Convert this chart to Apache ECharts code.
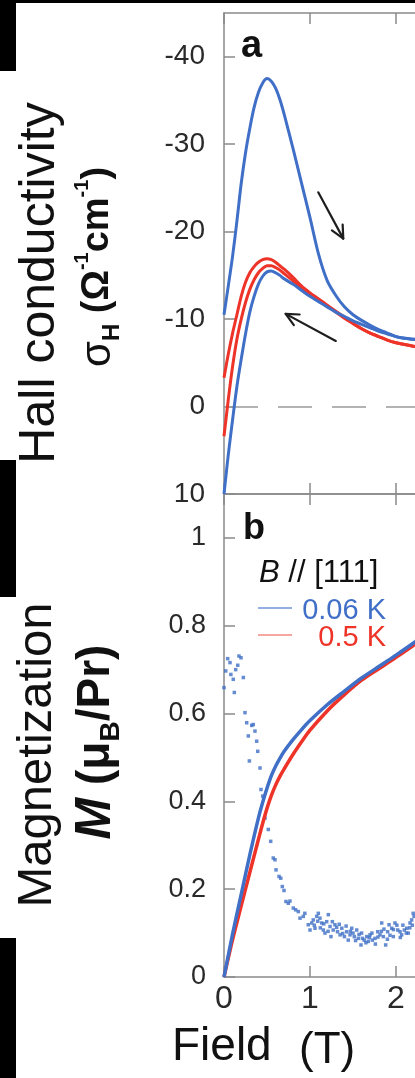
<!DOCTYPE html>
<html><head><meta charset="utf-8">
<script src="https://cdn.jsdelivr.net/npm/echarts@6/dist/echarts.min.js"></script>
<style>html,body{margin:0;padding:0;background:#fff;overflow:hidden;width:415px;height:1078px}
#c{width:520px;height:1078px}</style></head><body><div id="c"></div><script>
// ---------- Panel a: Hall conductivity (Ω^-1 cm^-1) ----------
const hallField = [0,0.05,0.1,0.15,0.2,0.25,0.3,0.35,0.4,0.45,0.5,0.55,0.6,0.65,0.7,0.8,0.9,1.0,1.1,1.2,1.3,1.4,1.5,1.6,1.7,1.8,1.9,2.0,2.1,2.2,2.3];
const hallBluePeak = [-10.5,-13.8,-17.2,-21.2,-25.5,-29.0,-31.8,-34.2,-35.9,-37.0,-37.5,-37.2,-36.4,-35.1,-33.4,-29.6,-25.6,-21.6,-17.4,-14.4,-12.7,-11.4,-10.5,-9.85,-9.3,-8.8,-8.4,-8.0,-7.8,-7.7,-7.6];
const hallBlueLow  = [10.0,5.5,1.5,-2.3,-5.4,-8.3,-10.8,-12.6,-14.0,-14.9,-15.4,-15.5,-15.3,-15.0,-14.6,-14.0,-13.3,-12.6,-12.0,-11.4,-10.8,-10.3,-9.8,-9.4,-9.0,-8.6,-8.3,-8.0,-7.8,-7.7,-7.6];
const hallRedOuter = [-3.3,-6.0,-8.4,-10.5,-12.6,-14.2,-15.3,-16.0,-16.5,-16.8,-16.9,-16.8,-16.5,-16.1,-15.7,-14.8,-13.8,-13.0,-12.3,-11.6,-10.9,-10.2,-9.5,-8.9,-8.4,-8.0,-7.6,-7.3,-7.1,-6.9,-6.7];
const hallRedInner = [3.4,-0.8,-4.6,-7.7,-10.0,-11.9,-13.4,-14.5,-15.3,-15.8,-16.1,-16.1,-15.9,-15.6,-15.2,-14.4,-13.6,-12.9,-12.2,-11.5,-10.8,-10.1,-9.5,-8.9,-8.4,-8.0,-7.6,-7.3,-7.1,-6.9,-6.8];
const hallTicks = [-40,-30,-20,-10,0,10];
// sweep-direction arrows (field, sigma) : start -> end
const arrowSweepUp   = [[1.096,-24.5],[1.387,-19.2]];
const arrowSweepDown = [[1.30,-7.5],[0.717,-10.6]];

// ---------- Panel b: Magnetization (μB/Pr) ----------
const magField = [0,0.1,0.2,0.3,0.4,0.45,0.5,0.55,0.6,0.65,0.7,0.8,0.9,1.0,1.2,1.4,1.6,1.8,2.0,2.2,2.3];
const magBlue  = [0,0.098,0.188,0.278,0.362,0.398,0.43,0.458,0.48,0.498,0.514,0.54,0.563,0.584,0.62,0.651,0.681,0.707,0.733,0.76,0.775];
const magRed   = [0,0.085,0.162,0.238,0.313,0.35,0.384,0.413,0.437,0.457,0.474,0.506,0.535,0.562,0.606,0.643,0.676,0.702,0.728,0.755,0.77];
const dmField = [0,0.02,0.043,0.07,0.08,0.108,0.12,0.136,0.16,0.174,0.198,0.225,0.244,0.264,0.283,0.295,0.322,0.34,0.36,0.38,0.392,0.419,0.43,0.45,0.477,0.515,0.543,0.573,0.593,0.605,0.64,0.66,0.678,0.698,0.72,0.748,0.767,0.806,0.833,0.864,0.884,0.922,0.94,0.98,1.0,1.02,1.038,1.05,1.058,1.078,1.09,1.097,1.116,1.12,1.136,1.155,1.16,1.174,1.194,1.21,1.213,1.233,1.244,1.26,1.27,1.29,1.31,1.32,1.34,1.35,1.37,1.38,1.40,1.42,1.426,1.445,1.465,1.47,1.485,1.5,1.515,1.53,1.543,1.562,1.57,1.593,1.60,1.61,1.63,1.65,1.66,1.678,1.69,1.698,1.72,1.725,1.756,1.76,1.787,1.79,1.814,1.83,1.834,1.853,1.86,1.88,1.9,1.903,1.919,1.93,1.95,1.969,1.97,1.988,2.01,2.02,2.047,2.05,2.066,2.08,2.097,2.12,2.125,2.143,2.16,2.163,2.182,2.19,2.2,2.21];
const dmValue = [0.659,0.697,0.725,0.716,0.689,0.678,0.648,0.70,0.71,0.731,0.727,0.682,0.602,0.579,0.549,0.492,0.573,0.575,0.56,0.537,0.514,0.476,0.427,0.412,0.362,0.336,0.309,0.271,0.267,0.244,0.229,0.225,0.206,0.197,0.172,0.168,0.173,0.157,0.153,0.149,0.134,0.138,0.145,0.119,0.107,0.123,0.13,0.118,0.111,0.138,0.127,0.145,0.134,0.112,0.123,0.107,0.121,0.1,0.126,0.104,0.142,0.115,0.092,0.126,0.107,0.119,0.113,0.103,0.12,0.096,0.111,0.099,0.092,0.116,0.103,0.084,0.096,0.104,0.111,0.1,0.092,0.083,0.107,0.088,0.097,0.073,0.1,0.088,0.084,0.078,0.092,0.081,0.09,0.096,0.1,0.084,0.088,0.075,0.103,0.091,0.096,0.104,0.123,0.092,0.109,0.073,0.086,0.103,0.119,0.095,0.111,0.092,0.108,0.123,0.118,0.107,0.103,0.09,0.096,0.118,0.107,0.1,0.111,0.1,0.112,0.123,0.13,0.118,0.145,0.138];
const magTicks = [0,0.2,0.4,0.6,0.8,1];

const zip = (xs, ys) => xs.map((x, i) => [x, ys[i]]);
const FONT = '"Liberation Sans", Arial, Helvetica, sans-serif';
const BLUE = '#3f6fc6', RED = '#ee3328', AX = '#8a8a8a';

const axLine = {show:true, onZero:false, lineStyle:{color:AX, width:1.5}};
const axTick = {show:true, inside:true, length:11, lineStyle:{color:AX, width:1.5}};
function xAx(grid, pos, labels){
  return {type:'value', gridIndex:grid, position:pos, min:0, max:3, interval:1,
    axisLine:axLine, axisTick:axTick, splitLine:{show:false},
    axisLabel: labels ? {show:true, margin:6, fontSize:32, color:'#2a2a2a', fontFamily:FONT,
      formatter: v => (v === 3 ? '' : String(v))} : {show:false}};
}

const chart = echarts.init(document.getElementById('c'), null, {renderer:'canvas'});
const lineS = (name, data, color, w, xi, yi, z) => ({type:'line', name, data, xAxisIndex:xi, yAxisIndex:yi,
  showSymbol:false, smooth:0.3, z, lineStyle:{color, width:w}, itemStyle:{color}, silent:true});

const option = {
  animation:false,
  backgroundColor:'#fff',
  grid:[{left:224, top:13, width:258, height:481},{left:224, top:494, width:258, height:483}],
  xAxis:[xAx(0,'bottom',false), xAx(0,'top',false), xAx(1,'top',false), xAx(1,'bottom',true)],
  yAxis:[
    {type:'value', gridIndex:0, min:-45, max:10, inverse:true, axisLine:axLine,
     axisTick:Object.assign({}, axTick, {customValues:hallTicks}), splitLine:{show:false},
     axisLabel:{customValues:hallTicks, margin:19, fontSize:28, color:'#2a2a2a', fontFamily:FONT}},
    {type:'value', gridIndex:1, min:0, max:1.1, axisLine:axLine,
     axisTick:Object.assign({}, axTick, {customValues:magTicks}), splitLine:{show:false},
     axisLabel:{customValues:magTicks, margin:18, fontSize:27, color:'#2a2a2a', fontFamily:FONT}}
  ],
  series:[
    Object.assign(lineS('0.5 K outer', zip(hallField, hallRedOuter), RED, 3, 0, 0, 2), {
      markLine:{silent:true, symbol:['none','none'], label:{show:false}, z:1,
        lineStyle:{color:'#9a9a9a', width:1.5, type:[34,20]}, data:[{yAxis:0}]}}),
    lineS('0.5 K inner', zip(hallField, hallRedInner), RED, 3, 0, 0, 2),
    lineS('0.06 K low', zip(hallField, hallBlueLow), BLUE, 3, 0, 0, 3),
    lineS('0.06 K peak', zip(hallField, hallBluePeak), BLUE, 3, 0, 0, 3),
    {type:'scatter', name:'dM/dB', data:zip(dmField, dmValue), xAxisIndex:3, yAxisIndex:1,
     symbol:'rect', symbolSize:3.5, itemStyle:{color:BLUE}, z:2, silent:true},
    lineS('0.5 K', zip(magField, magRed), RED, 3.5, 3, 1, 3),
    lineS('0.06 K', zip(magField, magBlue), BLUE, 3.5, 3, 1, 4)
  ]
};
chart.setOption(option);

function arrow(pts){
  const a = chart.convertToPixel({xAxisIndex:0, yAxisIndex:0}, pts[0]);
  const b = chart.convertToPixel({xAxisIndex:0, yAxisIndex:0}, pts[1]);
  const ang = Math.atan2(b[1]-a[1], b[0]-a[0]);
  const L = 14, sp = 0.45;
  const p1 = [b[0]-L*Math.cos(ang-sp), b[1]-L*Math.sin(ang-sp)];
  const p2 = [b[0]-L*Math.cos(ang+sp), b[1]-L*Math.sin(ang+sp)];
  const st = {stroke:'#1e1e1e', lineWidth:2.2, lineCap:'round', lineJoin:'round', fill:null};
  return [
    {type:'line', shape:{x1:a[0], y1:a[1], x2:b[0], y2:b[1]}, style:st, z:100},
    {type:'polyline', shape:{points:[p1, b, p2]}, style:st, z:100}
  ];
}

const txt = (x, y, text, font, extra) => Object.assign({type:'text', x, y, z:100,
  style:Object.assign({text, font, fill:'#111', align:'left', verticalAlign:'middle'}, extra || {})});

const graphics = [
  // page frame artifacts (black bars)
  {type:'rect', shape:{x:0, y:0, width:520, height:3}, style:{fill:'#000'}, z:200},
  {type:'rect', shape:{x:0, y:0, width:16, height:71}, style:{fill:'#000'}, z:200},
  {type:'rect', shape:{x:0, y:460, width:16, height:137}, style:{fill:'#000'}, z:200},
  {type:'rect', shape:{x:0, y:938, width:16, height:140}, style:{fill:'#000'}, z:200},
  // y titles
  {type:'text', x:40, y:283, rotation:Math.PI/2, z:100,
   style:{text:'Hall conductivity', font:'50px ' + FONT, fill:'#111', align:'center', verticalAlign:'middle'}},
  {type:'text', x:98, y:267, rotation:Math.PI/2, z:100,
   style:{text:'{s|σ}{sub|H}{b| (Ω}{sup|-1}{b|cm}{sup|-1}{b|)}', align:'center', verticalAlign:'middle',
     rich:{
       s:{font:'42px ' + FONT, fill:'#111', lineHeight:52, verticalAlign:'middle'},
       b:{font:'bold 38px ' + FONT, fill:'#111', lineHeight:52, verticalAlign:'middle'},
       sub:{font:'bold 24px ' + FONT, fill:'#111', lineHeight:52, verticalAlign:'bottom'},
       sup:{font:'bold 20px ' + FONT, fill:'#111', lineHeight:52, verticalAlign:'top'}
     }}},
  {type:'text', x:37, y:755, rotation:Math.PI/2, z:100,
   style:{text:'Magnetization', font:'49px ' + FONT, fill:'#111', align:'center', verticalAlign:'middle'}},
  {type:'text', x:96, y:742, rotation:Math.PI/2, z:100,
   style:{text:'{m|M}{b| (μ}{sub|B}{b|/Pr)}', align:'center', verticalAlign:'middle',
     rich:{
       m:{font:'italic bold 50px ' + FONT, fill:'#111', lineHeight:58, verticalAlign:'middle'},
       b:{font:'bold 46px ' + FONT, fill:'#111', lineHeight:58, verticalAlign:'middle'},
       sub:{font:'bold 28px ' + FONT, fill:'#111', lineHeight:58, verticalAlign:'bottom'}
     }}},
  // panel letters
  txt(241, 47, 'a', 'bold 38px ' + FONT),
  txt(243, 529, 'b', 'bold 36px ' + FONT),
  // legend
  {type:'text', x:259, y:573, z:100,
   style:{text:'{i|B}{n| // [111]}', align:'left', verticalAlign:'middle',
     rich:{i:{font:'italic 31px ' + FONT, fill:'#111'}, n:{font:'31px ' + FONT, fill:'#111'}}}},
  {type:'line', shape:{x1:258, y1:608, x2:292, y2:608}, style:{stroke:'#6d95d8', lineWidth:1.6}, z:100},
  {type:'line', shape:{x1:258, y1:635, x2:292, y2:635}, style:{stroke:'#f28a80', lineWidth:1.6}, z:100},
  txt(386, 611, '0.06 K', '29px ' + FONT, {fill:BLUE, align:'right'}),
  txt(386, 638, '0.5 K', '29px ' + FONT, {fill:RED, align:'right'}),
  // x title
  txt(172, 1047, 'Field', '46px ' + FONT),
  txt(299, 1051, '(T)', '44px ' + FONT)
].concat(arrow(arrowSweepUp), arrow(arrowSweepDown));

chart.setOption({graphic:graphics});
</script></body></html>
